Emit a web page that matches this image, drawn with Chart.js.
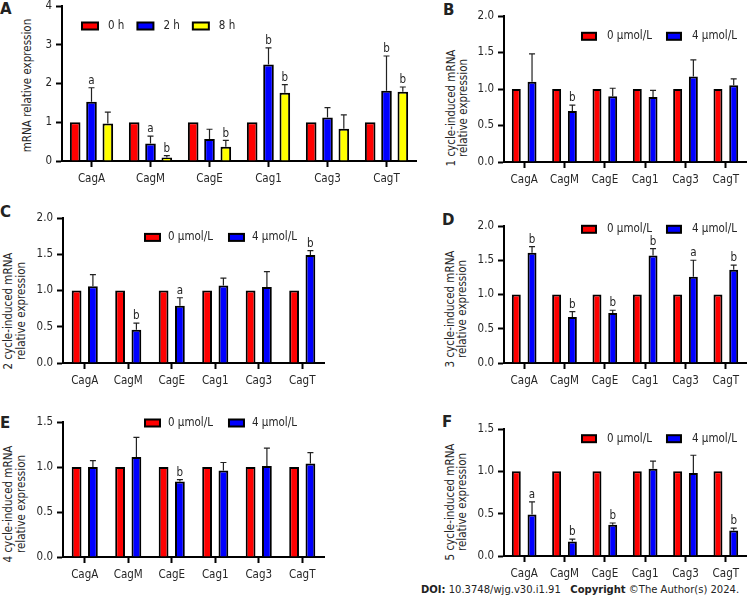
<!DOCTYPE html>
<html>
<head>
<meta charset="utf-8">
<script src="https://cdn.jsdelivr.net/npm/chart.js@4.4.0/dist/chart.umd.min.js"></script>
<style>
  body { margin: 0; background: #fff; width: 748px; height: 601px; position: relative; overflow: hidden;
         font-family: "DejaVu Sans Condensed", "DejaVu Sans", sans-serif; color: #262626; }
  .panel { position: absolute; }
  .letter { position: absolute; font: bold 15px "DejaVu Sans", sans-serif; color: #222; }
  .ytitle { position: absolute; width: 200px; transform: rotate(-90deg); text-align: center;
            font-size: 11.5px; white-space: nowrap; color: #262626; }
  .doi { position: absolute; left: 421px; top: 584px; font: 10px "DejaVu Sans", sans-serif; color: #222; white-space: nowrap; }
</style>
</head>
<body>
<div class="letter" style="left:0px;top:0px">A</div>
<div class="letter" style="left:443px;top:1px">B</div>
<div class="letter" style="left:0px;top:203px">C</div>
<div class="letter" style="left:442px;top:211px">D</div>
<div class="letter" style="left:0px;top:414px">E</div>
<div class="letter" style="left:442px;top:413px">F</div>

<div class="ytitle" id="tA" style="line-height:13px">mRNA relative expression</div>
<div class="ytitle" id="tB" style="line-height:12px">1 cycle-induced mRNA<br>relative expression</div>
<div class="ytitle" id="tC" style="line-height:13px">2 cycle-induced mRNA<br>relative expression</div>
<div class="ytitle" id="tD" style="line-height:12px">3 cycle-induced mRNA<br>relative expression</div>
<div class="ytitle" id="tE" style="line-height:13px">4 cycle-induced mRNA<br>relative expression</div>
<div class="ytitle" id="tF" style="line-height:12px">5 cycle-induced mRNA<br>relative expression</div>

<div class="doi"><b>DOI:</b> 10.3748/wjg.v30.i1.91&nbsp;&nbsp; <b>Copyright</b> ©The Author(s) 2024.</div>

<script>
const genes = ['CagA', 'CagM', 'CagE', 'Cag1', 'Cag3', 'CagT'];
const hourLabels = ['0 h', '2 h', '8 h'];
const doseLabels = ['0 µmol/L', '4 µmol/L'];
const control = [1, 1, 1, 1, 1, 1];

// A: time course
const a2h = [1.53, 0.45, 0.57, 2.49, 1.12, 1.81];
const a2hSd = [0.36, 0.19, 0.25, 0.43, 0.26, 0.90];
const a2hMarks = ['a', 'a', '', 'b', '', 'b'];
const a8h = [0.97, 0.09, 0.37, 1.76, 0.83, 1.79];
const a8hSd = [0.29, 0.05, 0.16, 0.21, 0.36, 0.12];
const a8hMarks = ['', 'b', 'b', 'b', '', 'b'];

// B-F: 4 µmol/L after 1..5 cycles
const b4 = [1.10, 0.70, 0.90, 0.89, 1.17, 1.05];
const b4Sd = [0.38, 0.08, 0.11, 0.09, 0.23, 0.09];
const b4Marks = ['', 'b', '', '', '', ''];

const c4 = [1.06, 0.46, 0.79, 1.07, 1.05, 1.49];
const c4Sd = [0.16, 0.09, 0.11, 0.10, 0.21, 0.06];
const c4Marks = ['', 'b', 'a', '', '', 'b'];

const d4 = [1.61, 0.67, 0.73, 1.57, 1.26, 1.36];
const d4Sd = [0.09, 0.08, 0.04, 0.10, 0.24, 0.07];
const d4Marks = ['b', 'b', 'b', 'b', 'a', 'b'];

const e4 = [1.00, 1.11, 0.84, 0.96, 1.01, 1.04];
const e4Sd = [0.07, 0.22, 0.02, 0.09, 0.20, 0.12];
const e4Marks = ['', '', 'b', '', '', ''];

const f4 = [0.49, 0.17, 0.37, 1.03, 0.98, 0.30];
const f4Sd = [0.15, 0.03, 0.02, 0.09, 0.21, 0.03];
const f4Marks = ['a', 'b', 'b', '', '', 'b'];

const RED = '#ff0000', BLUE = '#0000ff', YELLOW = '#ffff00';
const FONT = '"DejaVu Sans Condensed", "DejaVu Sans", sans-serif';

Chart.defaults.font.family = FONT;
Chart.defaults.font.size = 11.5;
Chart.defaults.color = '#262626';

// error bars (upper half only) + significance letters
const errorBars = {
  id: 'errorBars',
  afterDatasetsDraw(chart) {
    const ctx = chart.ctx;
    const yScale = chart.scales.y;
    chart.data.datasets.forEach((ds, i) => {
      if (!ds.sd) return;
      chart.getDatasetMeta(i).data.forEach((bar, j) => {
        const top = yScale.getPixelForValue(ds.data[j] + ds.sd[j]);
        ctx.save();
        ctx.strokeStyle = '#222';
        ctx.lineWidth = 1.2;
        ctx.beginPath();
        ctx.moveTo(bar.x, bar.y);
        ctx.lineTo(bar.x, top);
        ctx.moveTo(bar.x - 3, top);
        ctx.lineTo(bar.x + 3, top);
        ctx.stroke();
        const mark = ds.marks[j];
        if (mark) {
          ctx.fillStyle = '#262626';
          ctx.font = '11.5px ' + FONT;
          ctx.textAlign = 'center';
          ctx.textBaseline = 'bottom';
          ctx.fillText(mark, bar.x, top - 1);
        }
        ctx.restore();
      });
    });
  }
};

// legend drawn inside the plot area, one row
const rowLegend = {
  id: 'rowLegend',
  afterDraw(chart, args, opts) {
    const ctx = chart.ctx;
    const area = chart.chartArea;
    let x = area.left + opts.dx;
    const y = area.top + opts.dy;
    ctx.save();
    ctx.font = '11.5px ' + FONT;
    ctx.textBaseline = 'middle';
    chart.data.datasets.forEach((ds) => {
      ctx.fillStyle = ds.backgroundColor;
      ctx.fillRect(x, y - 3.5, opts.boxW, 7);
      ctx.strokeStyle = '#000';
      ctx.lineWidth = 2;
      ctx.strokeRect(x, y - 3.5, opts.boxW, 7);
      ctx.fillStyle = '#262626';
      ctx.fillText(ds.label, x + opts.boxW + opts.textGap, y);
      x += opts.boxW + opts.textGap + ctx.measureText(ds.label).width + opts.itemGap;
    });
    ctx.restore();
  }
};

function makePanel(p) {
  const padTop = 12, padRight = 4, xH = 30;
  const left = p.area.l - p.yW;
  const top = p.area.t - padTop;
  const width = p.area.r + padRight - left;
  const height = p.area.b + xH - top;

  const div = document.createElement('div');
  div.className = 'panel';
  div.style.left = left + 'px';
  div.style.top = top + 'px';
  const canvas = document.createElement('canvas');
  canvas.width = width;
  canvas.height = height;
  div.appendChild(canvas);
  document.body.appendChild(div);

  const t = document.getElementById(p.titleId);
  t.style.left = (p.title.x - 100) + 'px';
  t.style.top = (p.title.y - t.offsetHeight / 2) + 'px';

  new Chart(canvas, {
    type: 'bar',
    data: {
      labels: genes,
      datasets: p.datasets.map((d) => ({
        label: d.label,
        data: d.data,
        sd: d.sd,
        marks: d.marks,
        backgroundColor: d.color,
        borderColor: '#000',
        borderWidth: 2,
        categoryPercentage: p.catPct,
        barPercentage: p.barPct,
      })),
    },
    options: {
      responsive: false,
      animation: false,
      devicePixelRatio: 1,
      layout: { padding: { top: padTop, right: padRight, left: 0, bottom: 0 } },
      plugins: {
        legend: { display: false },
        tooltip: { enabled: false },
        rowLegend: p.legend,
      },
      scales: {
        x: {
          grid: { offset: false, drawOnChartArea: false, drawTicks: true, tickLength: 6, tickWidth: 2, tickColor: '#000' },
          border: { display: true, color: '#000', width: 2 },
          ticks: { padding: 5, color: '#262626' },
          afterFit: (s) => { s.height = xH; },
        },
        y: {
          min: 0,
          max: p.yMax,
          grid: { drawOnChartArea: false, drawTicks: true, tickLength: 6, tickWidth: 2, tickColor: '#000' },
          border: { display: true, color: '#000', width: 2 },
          ticks: {
            stepSize: p.yStep,
            padding: 4,
            color: '#262626',
            callback: (v) => (p.yStep < 1 ? v.toFixed(1) : v),
          },
          afterFit: (s) => { s.width = p.yW; },
        },
      },
    },
    plugins: [errorBars, rowLegend],
  });
}

const twoDose = (vals, sd, marks) => [
  { label: doseLabels[0], data: control, color: RED },
  { label: doseLabels[1], data: vals, sd: sd, marks: marks, color: BLUE },
];
const rightLegend = { dx: 78, boxW: 14, textGap: 11, itemGap: 15 };
const leftLegend = { dx: 82, boxW: 15, textGap: 8, itemGap: 16 };

makePanel({
  area: { l: 62, r: 416, t: 6, b: 161 }, yW: 62, yMax: 4, yStep: 1,
  catPct: 0.83, barPct: 0.65,
  titleId: 'tA', title: { x: 27, y: 85 },
  legend: { dx: 20, dy: 20, boxW: 16, textGap: 10, itemGap: 13 },
  datasets: [
    { label: hourLabels[0], data: control, color: RED },
    { label: hourLabels[1], data: a2h, sd: a2hSd, marks: a2hMarks, color: BLUE },
    { label: hourLabels[2], data: a8h, sd: a8hSd, marks: a8hMarks, color: YELLOW },
  ],
});
makePanel({
  area: { l: 504, r: 746, t: 15.7, b: 161.7 }, yW: 64, yMax: 2, yStep: 0.5,
  catPct: 0.78, barPct: 0.57,
  titleId: 'tB', title: { x: 457, y: 107.7 },
  legend: Object.assign({ dy: 20.3 }, rightLegend),
  datasets: twoDose(b4, b4Sd, b4Marks),
});
makePanel({
  area: { l: 63, r: 324, t: 218.3, b: 363.3 }, yW: 63, yMax: 2, yStep: 0.5,
  catPct: 0.75, barPct: 0.6,
  titleId: 'tC', title: { x: 15, y: 310.5 },
  legend: Object.assign({ dy: 19.4 }, leftLegend),
  datasets: twoDose(c4, c4Sd, c4Marks),
});
makePanel({
  area: { l: 504, r: 746, t: 226, b: 363.3 }, yW: 64, yMax: 2, yStep: 0.5,
  catPct: 0.78, barPct: 0.57,
  titleId: 'tD', title: { x: 455.5, y: 308.5 },
  legend: Object.assign({ dy: 3.3 }, rightLegend),
  datasets: twoDose(d4, d4Sd, d4Marks),
});
makePanel({
  area: { l: 63, r: 324, t: 422.3, b: 557.7 }, yW: 63, yMax: 1.5, yStep: 0.5,
  catPct: 0.75, barPct: 0.6,
  titleId: 'tE', title: { x: 15, y: 504 },
  legend: Object.assign({ dy: 1 }, leftLegend),
  datasets: twoDose(e4, e4Sd, e4Marks),
});
makePanel({
  area: { l: 504, r: 746, t: 429.3, b: 557 }, yW: 64, yMax: 1.5, yStep: 0.5,
  catPct: 0.78, barPct: 0.57,
  titleId: 'tF', title: { x: 455.5, y: 502 },
  legend: Object.assign({ dy: 9.7 }, rightLegend),
  datasets: twoDose(f4, f4Sd, f4Marks),
});
</script>
</body>
</html>
